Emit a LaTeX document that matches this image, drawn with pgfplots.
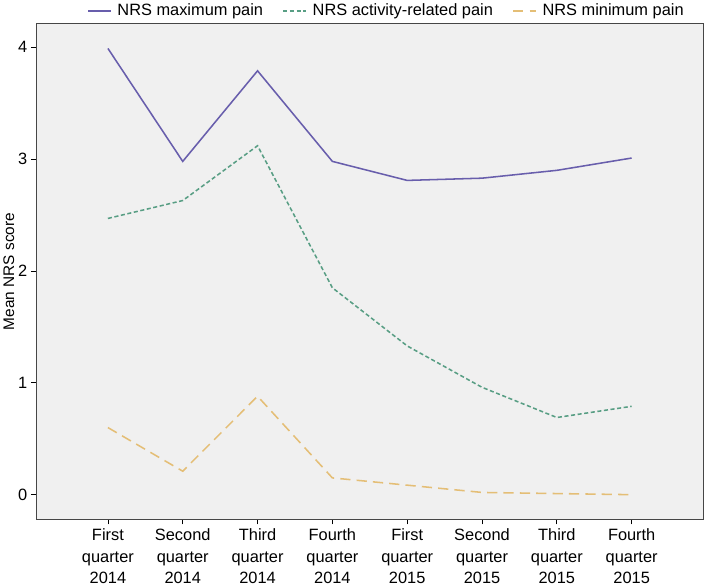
\documentclass[border=0pt]{standalone}
\usepackage{fontspec}
\setmainfont{Liberation Sans}
\usepackage{pgfplots}
\pgfplotsset{compat=1.18}
\definecolor{bgray}{RGB}{240,240,240}
\definecolor{axgray}{RGB}{70,70,70}
\definecolor{cmax}{RGB}{104,94,172}
\definecolor{cact}{RGB}{88,158,132}
\definecolor{cmin}{RGB}{228,190,118}
\begin{document}
\begin{tikzpicture}
\begin{axis}[
  scale only axis,
  width=652pt, height=484pt,
  xmin=-0.96, xmax=7.96, ymin=-0.22, ymax=4.21,
  axis background/.style={fill=bgray},
  axis line style={draw=axgray, line width=1pt},
  tick pos=left, tick align=outside,
  major tick length=5pt,
  tick style={black, line width=0.7pt},
  xtick={0,...,7}, ytick={0,...,4},
  xticklabels={{First\\quarter\\2014},{Second\\quarter\\2014},{Third\\quarter\\2014},{Fourth\\quarter\\2014},{First\\quarter\\2015},{Second\\quarter\\2015},{Third\\quarter\\2015},{Fourth\\quarter\\2015}},
  xticklabel style={align=center, font=\fontsize{16}{21}\selectfont, yshift=-1pt},
  yticklabel style={font=\fontsize{16}{19}\selectfont},
  /pgf/number format/assume math mode=true,
  ylabel={Mean NRS score},
  ylabel style={font=\fontsize{15}{18}\selectfont, yshift=-3pt},
  legend columns=3,
  legend style={at={(0.525,1)}, anchor=south, yshift=2pt, draw=none, fill=none,
    font=\fontsize{16}{19}\selectfont,
    /tikz/every odd column/.append style={column sep=4pt},
    /tikz/every even column/.append style={column sep=17pt}},
  legend image code/.code={\draw[#1] (0pt,0pt) -- (22pt,0pt);},
]
\addplot[cmax, line width=1.5pt] coordinates {
(0,3.99) (1,2.98) (2,3.79) (3,2.98) (4,2.81) (5,2.83) (6,2.90) (7,3.01)};
\addlegendentry{NRS maximum pain}
\addplot[cact, line width=1.5pt, dash pattern=on 4pt off 2.5pt] coordinates {
(0,2.47) (1,2.63) (2,3.12) (3,1.85) (4,1.33) (5,0.96) (6,0.69) (7,0.79)};
\addlegendentry{NRS activity-related pain}
\addplot[cmin, line width=1.5pt, dash pattern=on 10pt off 6pt] coordinates {
(0,0.60) (1,0.21) (2,0.88) (3,0.15) (4,0.085) (5,0.02) (6,0.01) (7,0.00)};
\addlegendentry{NRS minimum pain}
\end{axis}
\end{tikzpicture}
\end{document}
